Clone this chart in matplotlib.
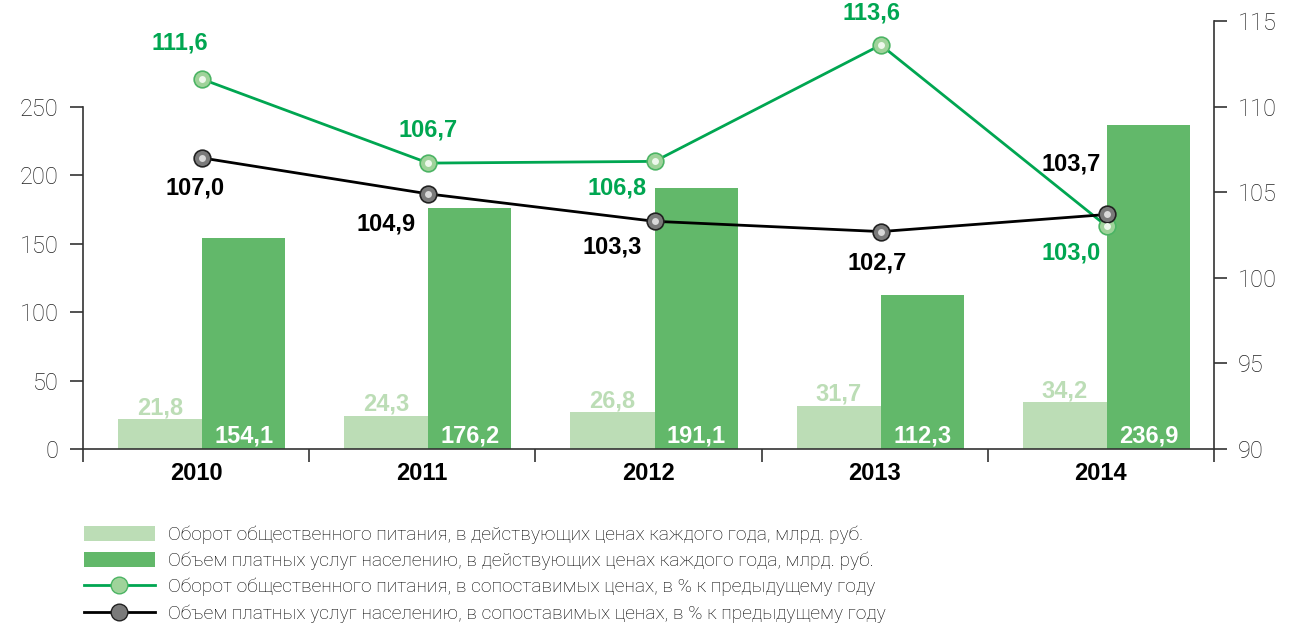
import matplotlib.pyplot as plt
from matplotlib.patches import Patch
from matplotlib.lines import Line2D
import numpy as np

# data
years = ["2010", "2011", "2012", "2013", "2014"]
catering_cur = [21.8, 24.3, 26.8, 31.7, 34.2]        # млрд. руб.
services_cur = [154.1, 176.2, 191.1, 112.3, 236.9]   # млрд. руб.
catering_idx = [111.6, 106.7, 106.8, 113.6, 103.0]   # % к пред. году
services_idx = [107.0, 104.9, 103.3, 102.7, 103.7]   # % к пред. году

legend_labels = [
    "Оборот общественного питания, в действующих ценах каждого года, млрд. руб.",
    "Объем платных услуг населению, в действующих ценах каждого года, млрд. руб.",
    "Оборот общественного питания, в сопоставимых ценах, в % к предыдущему году",
    "Объем платных услуг населению, в сопоставимых ценах, в % к предыдущему году",
]

LIGHT = "#bcddb6"
DARK = "#62b86a"
GREEN = "#00a651"
AXC = "#333333"
LBL = 17


def fmt(v):
    return f"{v:.1f}".replace(".", ",")


fig = plt.figure(figsize=(12.89, 6.32), dpi=100)
W, H = 1289, 632
ax = fig.add_axes([83 / W, 1 - 449 / H, (1214 - 83) / W, (449 - 21) / H])
ax2 = ax.twinx()

x = np.arange(len(years))
ax.bar(x - 0.345, catering_cur, width=0.372, align="edge", color=LIGHT, zorder=2)
ax.bar(x + 0.027, services_cur, width=0.367, align="edge", color=DARK, zorder=2)

ax.set_xlim(-0.5, len(years) - 0.5)
ax.set_ylim(0, 250 * 428 / 342)
ax.set_yticks([0, 50, 100, 150, 200, 250])
ax.spines["left"].set_bounds(0, 250)
for s in ["top", "right"]:
    ax.spines[s].set_visible(False)
for s in ["left", "bottom"]:
    ax.spines[s].set_color(AXC)
    ax.spines[s].set_linewidth(1.2)
ax.tick_params(axis="y", direction="out", length=9.5, width=1.2, color=AXC,
               labelsize=17, labelcolor="#222222", pad=8)
for lab in ax.get_yticklabels():
    lab.set_fontfamily("Roboto")
    lab.set_fontweight("light")

ax.set_xticks(x)
ax.set_xticklabels(years, fontfamily="Liberation Sans", fontweight="bold", fontsize=LBL)
ax.tick_params(axis="x", length=0, pad=9)
ax.set_xticks(np.arange(-0.5, len(years)), minor=True)
ax.tick_params(axis="x", which="minor", direction="out", length=9.5, width=1.2, color=AXC)

# bar value labels
for i in range(len(years)):
    ax.annotate(fmt(catering_cur[i]), (x[i] - 0.159, catering_cur[i]), xytext=(0, 0),
                textcoords="offset pixels", ha="center", va="bottom", color=LIGHT,
                fontsize=LBL, fontweight="bold", fontfamily="Liberation Sans", zorder=3)
    ax.annotate(fmt(services_cur[i]), (x[i] + 0.21, 0), xytext=(0, 2),
                textcoords="offset pixels", ha="center", va="bottom", color="white",
                fontsize=LBL, fontweight="bold", fontfamily="Liberation Sans", zorder=3)

# index lines on the right axis
xl = x + 0.027
ax2.plot(xl, catering_idx, color=GREEN, lw=2, zorder=3)
ax2.plot(xl, catering_idx, ls="none", marker="o", ms=12, mfc="#9fd39a", mec="#4cb464",
         mew=1.2, zorder=4)
ax2.plot(xl, catering_idx, ls="none", marker="o", ms=5, mfc="#eef8ec", mec="none", zorder=5)
ax2.plot(xl, services_idx, color="black", lw=2, zorder=3)
ax2.plot(xl, services_idx, ls="none", marker="o", ms=12, mfc="#7a7a7a", mec="#222222",
         mew=1.2, zorder=4)
ax2.plot(xl, services_idx, ls="none", marker="o", ms=5, mfc="#d8d8d8", mec="none", zorder=5)

green_off = [(-22, 36), (0, 33), (-38, -27), (-9, 32), (-36, -27)]
black_off = [(-7, -30), (-42, -30), (-42, -26), (-4, -31), (-36, 50)]
for i in range(len(years)):
    ax2.annotate(fmt(catering_idx[i]), (xl[i], catering_idx[i]), xytext=green_off[i],
                 textcoords="offset pixels", ha="center", va="center", color=GREEN,
                 fontsize=LBL, fontweight="bold", fontfamily="Liberation Sans", zorder=6)
    ax2.annotate(fmt(services_idx[i]), (xl[i], services_idx[i]), xytext=black_off[i],
                 textcoords="offset pixels", ha="center", va="center", color="black",
                 fontsize=LBL, fontweight="bold", fontfamily="Liberation Sans", zorder=6)

ax2.set_ylim(90, 115)
ax2.set_yticks([90, 95, 100, 105, 110, 115])
for s in ["top", "left", "bottom"]:
    ax2.spines[s].set_visible(False)
ax2.spines["right"].set_color(AXC)
ax2.spines["right"].set_linewidth(1.2)
ax2.tick_params(axis="y", direction="out", length=9.5, width=1.2, color=AXC,
                labelsize=17, labelcolor="#222222", pad=8)
for lab in ax2.get_yticklabels():
    lab.set_fontfamily("Roboto")
    lab.set_fontweight("light")

# legend
handles = [
    Patch(facecolor=LIGHT, edgecolor="none"),
    Patch(facecolor=DARK, edgecolor="none"),
    Line2D([], [], color=GREEN, lw=2, marker="o", ms=12, mfc="#9fd39a", mec="#4cb464"),
    Line2D([], [], color="black", lw=2, marker="o", ms=12, mfc="#7a7a7a", mec="#222222"),
]
fig.legend(handles, legend_labels, loc="upper left", bbox_to_anchor=(76 / W, 1 - 518 / H),
           frameon=False, handlelength=3.7, handleheight=0.85, handletextpad=0.7,
           labelspacing=0.4, borderaxespad=0,
           prop={"family": "Roboto", "weight": "light", "size": 13.8})

fig.savefig("out.png", dpi=100)
